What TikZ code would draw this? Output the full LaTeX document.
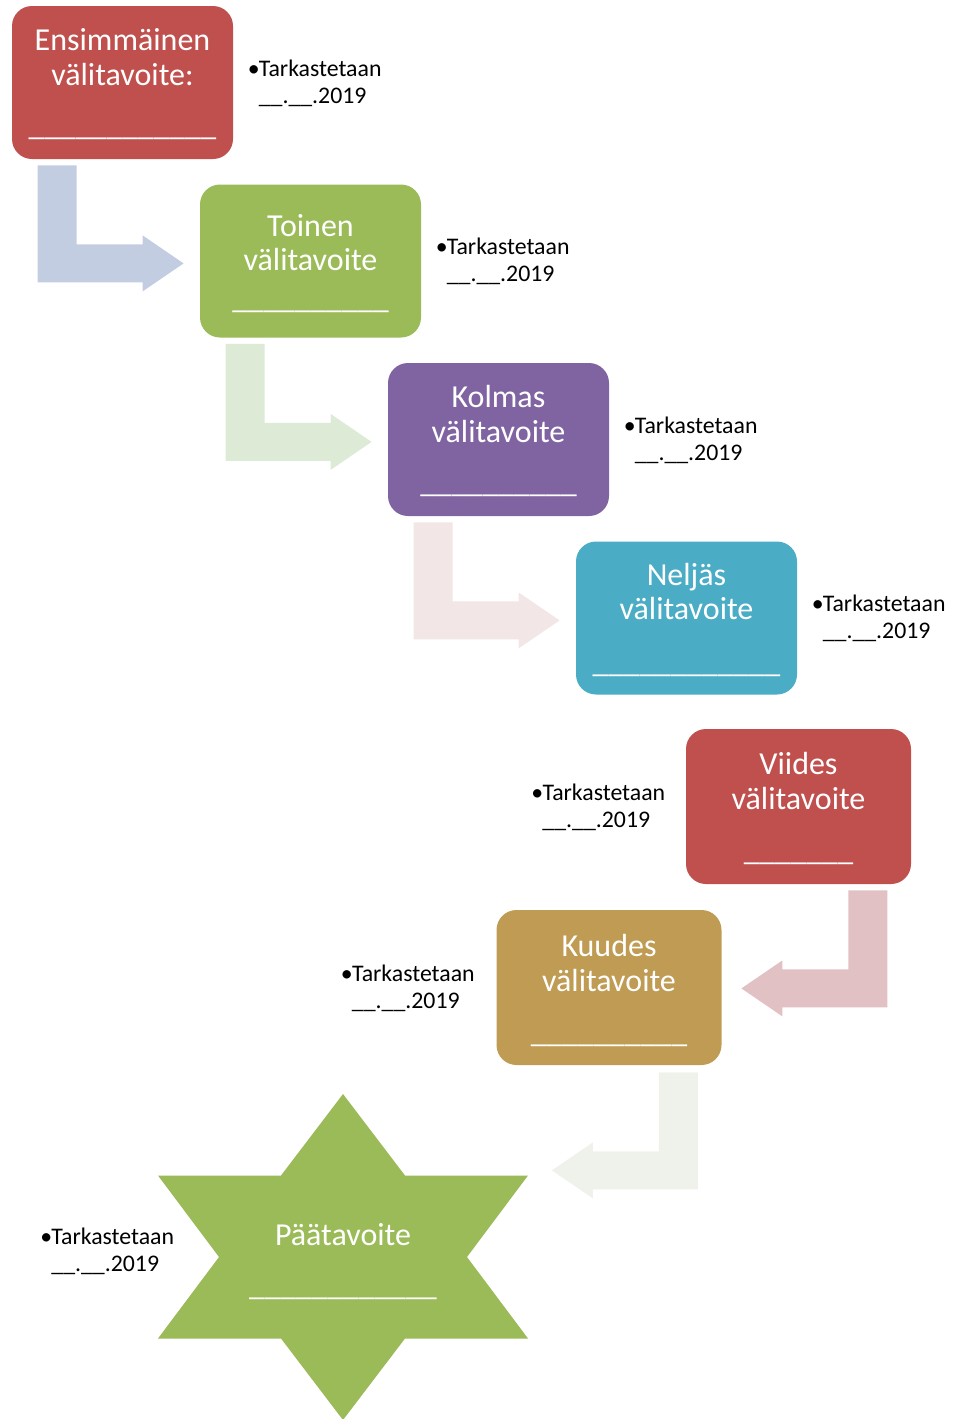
\documentclass[tikz,border=0pt]{standalone}
\usepackage{fontspec}
\setmainfont{Carlito}
\usetikzlibrary{positioning}

\definecolor{goalred}{HTML}{C0504D}
\definecolor{goalgreen}{HTML}{9BBB59}
\definecolor{goalpurple}{HTML}{8064A2}
\definecolor{goalblue}{HTML}{4BACC6}
\definecolor{goalgold}{HTML}{BF9B53}
\definecolor{turnblue}{HTML}{C3CDE2}
\definecolor{turngreen}{HTML}{DCEAD6}
\definecolor{turnpink}{HTML}{F2E6E6}
\definecolor{turnrose}{HTML}{E1C1C3}
\definecolor{turnmint}{HTML}{EFF2EA}

\tikzset{
x=0.5pt, y=-0.5pt, % one unit is one pixel of the layout, y runs downwards
goal/.style={rounded corners=10pt, minimum width=110.5pt, minimum height=76.5pt, inner sep=0pt}, % the coloured boxes
wide/.style={minimum width=112.5pt, minimum height=77.5pt}, % the two lower boxes are a bit larger
title/.style={text=white, align=center, inner sep=0pt, font=\fontsize{16}{17.25}\selectfont}, % text in a box
blank/.style={text=white, anchor=base, inner sep=0pt, font=\fontsize{15.7}{17.25}\selectfont}, % the line to write on
check/.style={align=left, inner sep=0pt, yshift=-1pt, font=\fontsize{11.9}{13.5}\selectfont}, % the date notes
}

% date note beside each goal
\newcommand\checknote{\makebox[5.5pt][l]{•}Tarkastetaan\strut\\\hspace*{5.5pt}\_\_.\_\_.2019\strut}
% bent arrow, #1 colour, #2 where it goes
\newcommand\turnarrow[2]{\fill[#1, #2] (0,0) -- (39,0) -- (39,79) -- (105,79) -- (105,70) -- (146,98) -- (105,126) -- (105,117) -- (0,117) -- cycle;}

\begin{document}
\begin{tikzpicture}
\useasboundingbox (0,0) rectangle (956,1419);

            \node[goal, fill=goalred] (b1) at (122.5,82.5) {};
            \node[goal, fill=goalgreen] (b2) at ([shift={(188,178.5)}]b1) {};
            \node[goal, fill=goalpurple] (b3) at ([shift={(188,178.5)}]b2) {};
            \node[goal, fill=goalblue] (b4) at ([shift={(188,178.5)}]b3) {};
            \node[goal, wide, fill=goalred] (b5) at ([shift={(112,188.5)}]b4) {};
            \node[goal, wide, fill=goalgold] (b6) at ([shift={(-189.5,181)}]b5) {};

            \node[title, below=10.25pt of b1.north] (t1) {\strut Ensimmäinen\\välitavoite:};
            \node[title, below=13.75pt of b2.north] (t2) {\strut Toinen\\välitavoite};
            \node[title, below=10.25pt of b3.north] (t3) {\strut Kolmas\\välitavoite};
            \node[title, below=9.75pt of b4.north] (t4) {\strut Neljäs\\välitavoite};
            \node[title, below=10.75pt of b5.north] (t5) {\strut Viides\\välitavoite};
            \node[title, below=11.25pt of b6.north] (t6) {\strut Kuudes\\välitavoite};

            \node[blank] (u1) at ([yshift=12pt]b1.south) {\_\_\_\_\_\_\_\_\_\_\_\_};
            \node[blank] (u2) at ([yshift=14.5pt]b2.south) {\_\_\_\_\_\_\_\_\_\_};
            \node[blank] (u3) at ([yshift=12pt]b3.south) {\_\_\_\_\_\_\_\_\_\_};
            \node[blank] (u4) at ([yshift=11pt]b4.south) {\_\_\_\_\_\_\_\_\_\_\_\_};
            \node[blank] (u5) at ([yshift=12pt]b5.south) {\_\_\_\_\_\_\_};
            \node[blank] (u6) at ([yshift=11.5pt]b6.south) {\_\_\_\_\_\_\_\_\_\_};

            % the final goal is a six pointed star
            \fill[goalgreen] (343,1094) -- (405,1175.5) -- (528,1175.5) -- (467,1257) -- (528,1338.5) -- (405,1338.5)
                -- (343,1420) -- (281,1338.5) -- (158,1338.5) -- (219,1257) -- (158,1175.5) -- (281,1175.5) -- cycle;
            \node[title, anchor=base] (star) at (343,1245) {Päätavoite};
            \node[blank] (u7) at (343,1295) {\_\_\_\_\_\_\_\_\_\_\_\_};

            \node[check, right=7pt of b1] (n1) {\checknote};
            \node[check, right=7pt of b2] (n2) {\checknote};
            \node[check, right=7pt of b3] (n3) {\checknote};
            \node[check, right=7pt of b4] (n4) {\checknote};
            \node[check, left=10pt of b5] (n5) {\checknote};
            \node[check, left=10.5pt of b6] (n6) {\checknote};
            \node[check, anchor=north west] (n7) at (40,1223) {\checknote};

            \turnarrow{turnblue}{shift={([shift={(26,6)}]b1.south west)}}
            \turnarrow{turngreen}{shift={([shift={(26,6)}]b2.south west)}}
            \turnarrow{turnpink}{shift={([shift={(26,6)}]b3.south west)}}
            \turnarrow{turnrose}{shift={([shift={(-24,6)}]b5.south east)}, xscale=-1}
            \turnarrow{turnmint}{shift={([shift={(-24,7)}]b6.south east)}, xscale=-1}
\end{tikzpicture}
\end{document}
